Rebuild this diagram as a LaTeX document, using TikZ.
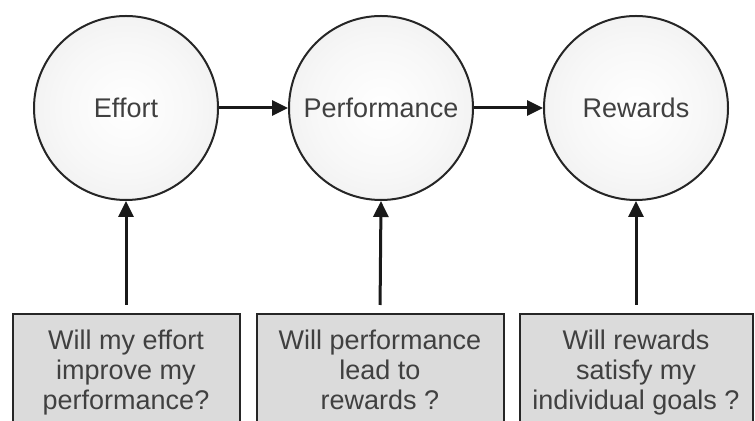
\documentclass[tikz,border=0pt]{standalone}
\usepackage{fontspec}
\setmainfont{Liberation Sans}
\usetikzlibrary{arrows.meta}

\pgfdeclareradialshading{softball}{\pgfpoint{0bp}{0bp}}{%
  color(0bp)=(white); color(18bp)=(gray!6); color(36bp)=(gray!15); color(50bp)=(gray!27); color(60bp)=(gray!27)}

\tikzset{
  stage/.style={circle, draw=black!85, line width=1pt, minimum size=92pt, inner sep=0pt,
    shading=softball, text=black!75, font=\fontsize{13.5}{15}\selectfont},
  question/.style={rectangle, draw=black!85, line width=1pt, anchor=north, align=center,
    left color=gray!28, middle color=gray!6, right color=gray!28, text=black!75,
    inner xsep=0pt, inner ysep=8pt, text depth=70pt, font=\fontsize{13.5}{15}\selectfont},
  link/.style={line width=1.5pt, draw=black!90, -{Triangle[length=8pt,width=7.5pt]}}
}

\begin{document}
\begin{tikzpicture}[x=0.5pt, y=-0.5pt]
    \useasboundingbox (0,0) rectangle (755,421);
    \clip (0,0) rectangle (755,421);

    % circles
    \node[stage] (effort) at (126,108) {Effort};
    \node[stage] (perf) at (381,108) {Performance};
    \node[stage] (reward) at (636,108) {Rewards};

    % questions
    \node[question, minimum width=113.5pt] (q1) at (126,313) {Will my effort\\improve my\\performance?};
    \node[question, minimum width=123.5pt] (q2) at (380,313) {Will performance\\lead to\\rewards ?};
    \node[question, minimum width=116.5pt] (q3) at (636,313) {Will rewards\\satisfy my\\individual goals ?};

    \draw[link] (effort) -- (perf);
    \draw[link] (perf) -- (reward);
    \draw[link, shorten <=4pt] (q1.north) -- (effort.south);
    \draw[link, shorten <=4pt] (q2.north) -- (perf.south);
    \draw[link, shorten <=4pt] (q3.north) -- (reward.south);
\end{tikzpicture}
\end{document}
